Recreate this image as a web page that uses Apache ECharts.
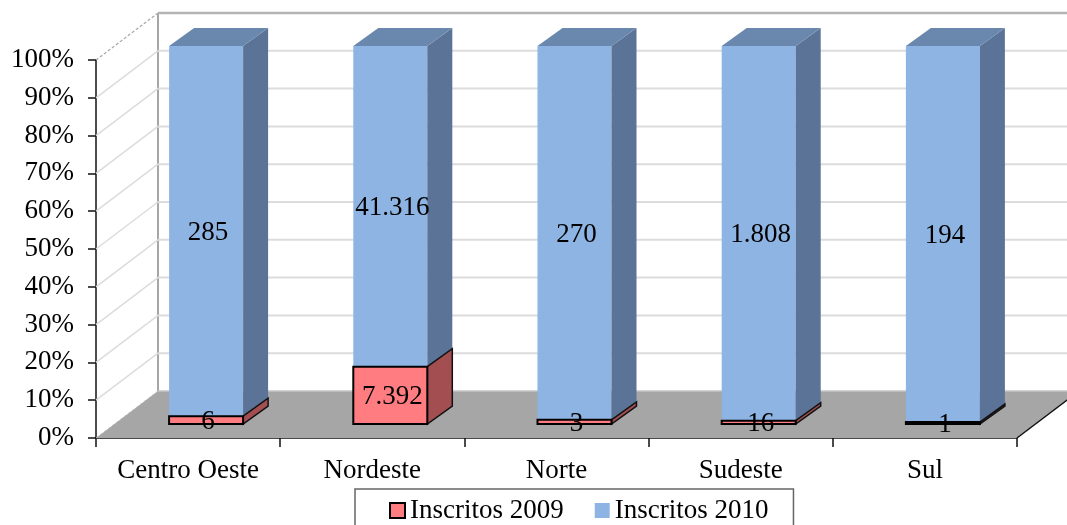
<!DOCTYPE html>
<html><head><meta charset="utf-8">
<style>html,body{margin:0;padding:0;background:#fff;overflow:hidden}#c{width:1067px;height:525px}</style>
<script src="https://cdn.jsdelivr.net/npm/echarts@6/dist/echarts.min.js"></script>
</head><body><div id="c"></div>
<script>
const categories = ['Centro Oeste','Nordeste','Norte','Sudeste','Sul'];
const inscritos2009 = [6,7392,3,16,1];
const inscritos2010 = [285,41316,270,1808,194];
const yTicks = [0,10,20,30,40,50,60,70,80,90,100];

const font = '"Liberation Serif","Times New Roman",serif';
const WALL = [62,-47], BAR_OFF = [18,-14], BAR_W = 74, BAR_D = [25,-18];
const fmt = v => String(v).replace(/\B(?=(\d{3})+$)/g,'.');
const pct = (a,b) => a/(a+b)*100;
const chart = echarts.init(document.getElementById('c'),null,{renderer:'canvas'});

function poly(points,fill,stroke,lw,z2){
  return {type:'polygon',shape:{points},z2:z2||0,
    style:{fill,stroke:stroke||null,lineWidth:lw||0,lineJoin:'miter'}};
}
function line(x1,y1,x2,y2,stroke,lw,dash,z2){
  return {type:'line',shape:{x1,y1,x2,y2},z2:z2||0,style:{stroke,lineWidth:lw,lineDash:dash||null,fill:null}};
}
function frameItem(params,api){
  const cs = params.coordSys, t = api.value(0), y = api.coord([0,t])[1];
  const L = cs.x, R = cs.x+cs.width, ch = [];
  if(t===0){
    const B = cs.y+cs.height;
    ch.push(poly([[L,B],[R,B],[R+WALL[0],B+WALL[1]],[L+WALL[0],B+WALL[1]]],'#a6a6a6'));
    ch.push(line(L+WALL[0],cs.y+WALL[1],L+WALL[0],B+WALL[1],'#a6a6a6',2));
    ch.push(line(L+WALL[0],B+WALL[1],R+WALL[0],B+WALL[1],'#c4c4c4',1.5));
    ch.push(line(R,B,R+WALL[0],B+WALL[1],'#111',1.5,null,2));
    ch.push(line(L,B,L+WALL[0],B+WALL[1],'#bdbdbd',1,[3,2],1));
  } else if(t===100){
    ch.push(line(L,y,L+WALL[0],y+WALL[1],'#a6a6a6',1.2,[3,2]));
    ch.push(line(L+WALL[0],y+WALL[1],R+WALL[0],y+WALL[1],'#b4b4b4',2.5));
  } else {
    ch.push(line(L,y,L+WALL[0],y+WALL[1],'#dcdcdc',1.5));
    ch.push(line(L+WALL[0],y+WALL[1],R+WALL[0],y+WALL[1],'#dcdcdc',2));
  }
  return {type:'group',children:ch};
}
function barItem(isTop,params,api){
  const i = params.dataIndex;
  const a = inscritos2009[i], b = inscritos2010[i], p = pct(a,b);
  const from = isTop ? p : 0, to = isTop ? 100 : p;
  const c = api.coord([i,from]), d = api.coord([i,to]);
  const x0 = c[0]+BAR_OFF[0]-BAR_W/2, x1 = x0+BAR_W;
  const yb = c[1]+BAR_OFF[1], yt = d[1]+BAR_OFF[1];
  const [dx,dy] = BAR_D;
  const ch = [];
  if(isTop){
    ch.push(poly([[x0,yt],[x1,yt],[x1,yb],[x0,yb]],'#8eb4e3'));
    ch.push(poly([[x1,yt],[x1+dx,yt+dy],[x1+dx,yb+dy],[x1,yb]],'#5a7396'));
    ch.push(poly([[x0,yt],[x0+dx,yt+dy],[x1+dx,yt+dy],[x1,yt]],'#6a88ae'));
  } else {
    ch.push(poly([[x1,yt],[x1+dx,yt+dy],[x1+dx,yb+dy],[x1,yb]],'#a34f52','#111',1.5));
    ch.push(poly([[x0,yt],[x1,yt],[x1,yb],[x0,yb]],'#ff7c80','#000',2));
  }
  ch.push({type:'text',z2:50,style:{text:fmt(isTop?b:a),x:(x0+x1)/2+2,y:(yt+yb)/2+2,
    align:'center',verticalAlign:'middle',font:'27px '+font,fill:'#000'}});
  return {type:'group',children:ch};
}
const option = {
  animation:false,
  backgroundColor:'#fff',
  grid:{left:96,right:50,top:60,bottom:87,containLabel:false},
  xAxis:{type:'category',data:categories,
    axisLine:{lineStyle:{color:'#111',width:1.5}},
    axisTick:{show:true,length:9,alignWithLabel:false,lineStyle:{color:'#111',width:1.5}},
    axisLabel:{fontFamily:font,fontSize:27,color:'#000',margin:19,interval:0},
    splitLine:{show:false}},
  yAxis:{type:'value',min:0,max:100,interval:10,
    axisLine:{show:true,lineStyle:{color:'#111',width:1.5}},
    axisTick:{show:true,length:8,lineStyle:{color:'#111',width:1.5}},
    axisLabel:{fontFamily:font,fontSize:27,color:'#000',margin:22,lineHeight:27,padding:[8,0,0,0],formatter:'{value}%'},
    splitLine:{show:false}},
  legend:{data:['Inscritos 2009','Inscritos 2010'],left:355,top:489,
    padding:[8,25,10,34],itemGap:31,itemWidth:15,itemHeight:15,
    borderColor:'#666',borderWidth:1.5,backgroundColor:'#fff',
    textStyle:{fontFamily:font,fontSize:27,color:'#000'},
    selectedMode:false,icon:'rect'},
  series:[
    {type:'custom',name:'frame',coordinateSystem:'cartesian2d',z:1,silent:true,
     encode:{y:0},data:yTicks.map(t=>[t]),renderItem:frameItem,clip:false},
    {type:'custom',name:'Inscritos 2010',coordinateSystem:'cartesian2d',z:3,silent:true,
     itemStyle:{color:'#8eb4e3'},
     data:inscritos2010,renderItem:(p,a)=>barItem(true,p,a),clip:false},
    {type:'custom',name:'Inscritos 2009',coordinateSystem:'cartesian2d',z:4,silent:true,
     itemStyle:{color:'#ff7c80',borderColor:'#000',borderWidth:2},
     data:inscritos2009,renderItem:(p,a)=>barItem(false,p,a),clip:false}
  ]
};
chart.setOption(option);
</script></body></html>
